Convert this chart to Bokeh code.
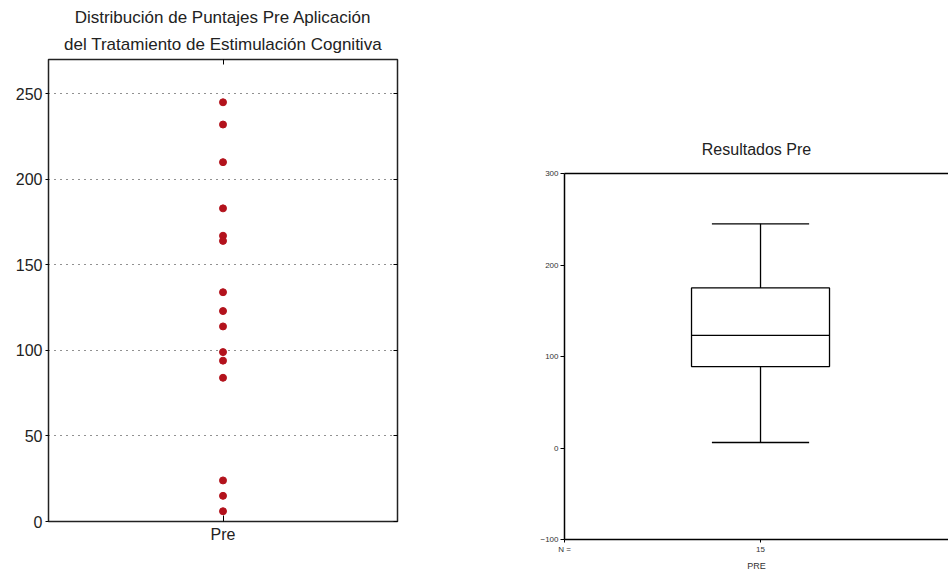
import numpy as np
from bokeh.plotting import figure
from bokeh.layouts import row, column
from bokeh.models import (Range1d, Title, LinearAxis, FixedTicker, ColumnDataSource)
from bokeh.embed import file_html
from bokeh.resources import INLINE

# ---- data ----
groups = ["Pre"]
pre_scores = [245, 232, 210, 183, 167, 164, 134, 123, 114, 99, 94, 84, 24, 15, 6]
left_ticks = [0, 50, 100, 150, 200, 250]
right_ticks = [-100, 0, 100, 200, 300]
title_left_1 = "Distribución de Puntajes Pre Aplicación"
title_left_2 = "del Tratamiento de Estimulación Cognitiva"
title_right = "Resultados Pre"
box_label = "PRE"
n_label = "N ="

FONT = "Liberation Sans"

# ---- Left: dot plot ----
gpos = list(range(len(groups)))
p1 = figure(width=460, height=551, x_range=Range1d(-0.5, len(groups) - 0.5),
            y_range=Range1d(0, 270),
            output_backend="svg", toolbar_location=None,
            min_border_left=48, min_border_right=63, min_border_top=59, min_border_bottom=30)
p1.title = None

src = ColumnDataSource(dict(x=[gpos[0]] * len(pre_scores), y=pre_scores))
p1.scatter("x", "y", source=src, size=7, fill_color="#b3121c", line_color="#b3121c")

p1.outline_line_color = "#222222"
p1.outline_line_width = 1.5
p1.xgrid.grid_line_color = None
p1.ygrid.grid_line_color = "#222222"
p1.ygrid.grid_line_dash = "1 5"
p1.ygrid.grid_line_width = 1.2

yl = p1.yaxis[0]
yl.ticker = FixedTicker(ticks=left_ticks)
yl.axis_line_color = None
yl.major_tick_out = 3
yl.major_tick_in = 0
yl.minor_tick_line_color = None
yl.major_label_text_font = FONT
yl.major_label_text_font_size = "16px"
yl.major_label_text_color = "#222222"
yl.major_label_standoff = 3

xb = p1.xaxis[0]
xb.ticker = FixedTicker(ticks=gpos)
xb.major_label_overrides = {g: name for g, name in zip(gpos, groups)}
xb.axis_line_color = None
xb.major_tick_in = 6
xb.major_tick_out = 0
xb.minor_tick_line_color = None
xb.major_label_text_font = FONT
xb.major_label_text_font_size = "16px"
xb.major_label_text_color = "#222222"
xb.major_label_standoff = 4

ax_r = LinearAxis(ticker=FixedTicker(ticks=left_ticks),
                  major_label_overrides={t: "" for t in left_ticks},
                  axis_line_color=None, major_tick_in=4, major_tick_out=0,
                  minor_tick_line_color=None, major_label_standoff=0)
p1.add_layout(ax_r, "right")
ax_t = LinearAxis(ticker=FixedTicker(ticks=gpos),
                  major_label_overrides={g: "" for g in gpos}, axis_line_color=None,
                  major_tick_in=5, major_tick_out=0, major_label_standoff=0,
                  minor_tick_line_color=None)
p1.add_layout(ax_t, "above")
p1.add_layout(Title(text=title_left_2, align="center", text_font=FONT, text_font_size="17px",
                    text_font_style="normal", text_color="#222222", standoff=12), "above")
p1.add_layout(Title(text=title_left_1, align="center", text_font=FONT, text_font_size="17px",
                    text_font_style="normal", text_color="#222222", standoff=0), "above")

# ---- Right: box plot (Tukey hinges as drawn by SPSS) ----
vals = np.sort(np.array(pre_scores, dtype=float))
n = len(vals)
med = np.median(vals)
half = (n + 1) // 2
q1 = np.median(vals[:half])
q3 = np.median(vals[n - half:])
lo, hi = vals.min(), vals.max()

p2 = figure(width=488, height=573, x_range=Range1d(-1, 0.959), y_range=Range1d(-100, 300),
            output_backend="svg", toolbar_location=None,
            min_border_left=104, min_border_right=0, min_border_top=173, min_border_bottom=4)
p2.title.text = title_right
p2.title.align = "center"
p2.title.text_font = FONT
p2.title.text_font_size = "16px"
p2.title.text_font_style = "normal"
p2.title.text_color = "#222222"
p2.title.standoff = 31
p2.outline_line_color = None
p2.grid.grid_line_color = None

bw, cw = 0.352, 0.248
p2.segment(x0=[0, 0], y0=[q3, q1], x1=[0, 0], y1=[hi, lo], line_color="black", line_width=1.3)
p2.segment(x0=[-cw, -cw], y0=[hi, lo], x1=[cw, cw], y1=[hi, lo], line_color="black", line_width=1.3)
p2.quad(left=[-bw], right=[bw], bottom=[q1], top=[q3], fill_color="white",
        line_color="black", line_width=1.3)
p2.segment(x0=[-bw], y0=[med], x1=[bw], y1=[med], line_color="black", line_width=1.3)

y2 = p2.yaxis[0]
y2.ticker = FixedTicker(ticks=right_ticks)
y2.axis_line_color = "black"
y2.axis_line_width = 1.5
y2.major_tick_out = 4
y2.major_tick_in = 0
y2.minor_tick_line_color = None
y2.major_label_text_font = FONT
y2.major_label_text_font_size = "8px"
y2.major_label_text_color = "#333333"
y2.major_label_standoff = 2

x2 = p2.xaxis[0]
x2.ticker = FixedTicker(ticks=[-1, 0])
x2.major_label_overrides = {-1: n_label, 0: str(n)}
x2.axis_line_color = "black"
x2.axis_line_width = 1.5
x2.major_tick_out = 3
x2.major_tick_in = 0
x2.minor_tick_line_color = None
x2.major_label_text_font = FONT
x2.major_label_text_font_size = "8px"
x2.major_label_text_color = "#333333"
x2.major_label_standoff = 2
x2.axis_label = box_label
x2.axis_label_text_font = FONT
x2.axis_label_text_font_size = "9px"
x2.axis_label_text_font_style = "normal"
x2.axis_label_text_color = "#333333"
x2.axis_label_standoff = 4

top_ax = LinearAxis(ticker=FixedTicker(ticks=[]),
                    axis_line_color="black", axis_line_width=1.5,
                    major_tick_line_color=None, minor_tick_line_color=None)
p2.add_layout(top_ax, "above")

layout = row(column(p1), column(p2))
open("out.html", "w").write(file_html(layout, INLINE))
